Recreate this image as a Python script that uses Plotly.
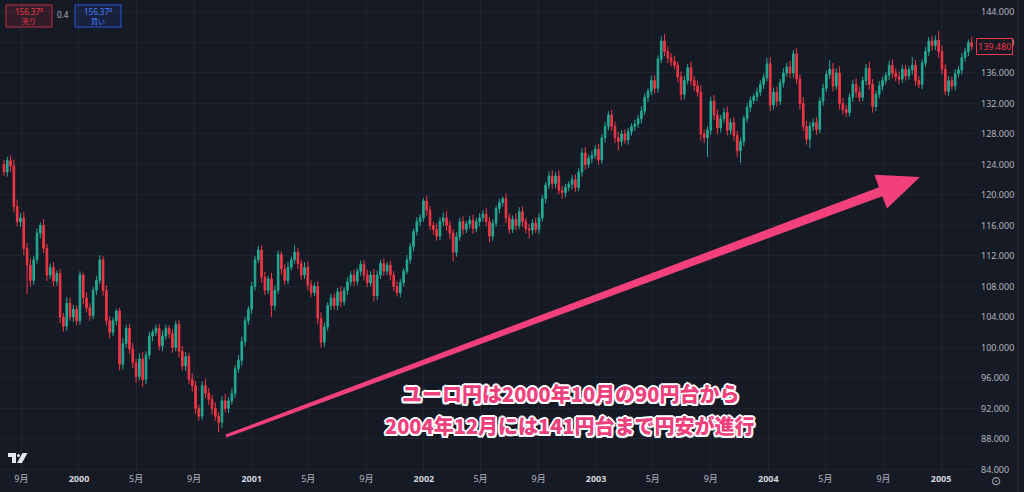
import plotly.graph_objects as go
import pandas as pd

# ---------------- data (weekly EUR/JPY candles) ----------------
START_WEEK = "1999-07-26"
FIRST_OPEN = 124.0
CLOSE = [
    123.0, 124.5, 123.8, 118.5, 116.5, 117.0, 113.0, 110.8, 108.8, 111.5,
    115.0, 116.0, 113.0, 109.5, 110.5, 108.7, 109.7, 104.0, 102.8, 105.8,
    104.0, 105.0, 103.5, 109.5, 106.5, 105.2, 104.2, 107.5, 108.8, 111.5,
    107.5, 103.5, 102.0, 103.5, 104.8, 97.8, 100.5, 102.5, 99.8, 98.0,
    96.2, 98.5, 95.8, 99.0, 101.5, 102.0, 102.5, 100.2, 101.5, 102.5,
    101.8, 100.0, 103.0, 99.5, 97.6, 98.8, 95.8, 95.0, 92.0, 91.0,
    95.0, 94.0, 93.2, 92.0, 91.0, 90.2, 93.0, 92.0, 93.0, 94.0,
    97.2, 98.3, 100.8, 103.5, 105.0, 108.0, 111.5, 112.8, 109.2, 107.5,
    109.0, 105.5, 107.5, 112.2, 110.3, 108.8, 110.5, 111.5, 112.5, 111.0,
    109.5, 110.5, 108.2, 107.2, 108.0, 103.8, 100.7, 102.7, 105.5, 106.5,
    105.5, 107.3, 106.0, 107.5, 108.6, 109.5, 108.7, 110.0, 110.9, 109.5,
    108.5, 109.5, 106.8, 109.5, 111.0, 110.0, 110.8, 109.5, 108.0, 107.2,
    108.5, 110.0, 111.5, 113.2, 115.2, 116.5, 117.0, 119.2, 118.0, 116.0,
    115.5, 114.6, 116.5, 117.0, 116.0, 115.0, 112.5, 114.5, 116.5, 115.5,
    116.2, 116.7, 115.6, 116.5, 117.0, 117.5, 116.5, 114.6, 116.3, 118.2,
    119.0, 119.5, 117.0, 115.5, 116.8, 116.0, 117.8, 116.5, 115.6, 115.4,
    116.3, 115.5, 117.0, 119.5, 121.3, 122.5, 121.5, 122.5, 120.6, 120.3,
    121.0, 121.4, 122.0, 121.0, 123.0, 125.5, 124.0, 124.8, 125.2, 126.0,
    124.6, 127.5, 129.0, 130.5, 129.0, 127.5, 127.0, 128.0, 127.2, 128.3,
    129.0, 129.3, 130.0, 131.0, 132.8, 133.6, 135.0, 134.0, 137.8, 140.2,
    138.8, 138.0, 137.5, 137.0, 135.5, 133.2, 135.0, 136.7, 135.0, 134.3,
    133.5, 128.0, 127.5, 128.5, 132.3, 130.5, 128.8, 130.0, 130.8, 128.5,
    129.5, 127.8, 125.8, 127.0, 130.0, 131.5, 132.4, 132.9, 133.5, 134.5,
    135.4, 137.2, 131.8, 133.5, 132.3, 134.7, 136.0, 136.8, 136.0, 138.5,
    135.2, 132.0, 129.0, 127.3, 129.0, 129.5, 128.6, 132.3, 134.0, 135.8,
    136.5, 134.3, 136.0, 132.0, 131.2, 130.8, 132.8, 134.5, 133.5, 132.8,
    135.0, 136.6, 134.5, 131.6, 133.2, 134.3, 135.0, 135.7, 137.0, 136.0,
    135.5, 135.2, 136.5, 135.6, 136.4, 137.0, 135.0, 134.5, 137.3, 138.8,
    140.2, 139.6, 140.3, 138.8, 136.5, 133.6, 135.0, 134.3, 135.9, 136.4,
    138.0, 138.8, 140.0, 139.48,
]
UPPER_WICK = [
    0.6, 0.5, 0.7, 0.8, 0.9, 0.6, 0.8, 0.7, 0.9, 0.5,
    0.6, 0.4, 0.8, 0.6, 0.5, 0.7, 0.4, 0.6, 0.5, 0.8,
    0.7, 0.6, 0.5, 0.5, 0.3, 0.7, 0.6, 0.4, 0.6, 0.6,
    0.5, 0.7, 0.6, 0.4, 0.3, 0.4, 0.7, 0.5, 0.6, 0.8,
    0.5, 0.7, 0.9, 0.5, 0.6, 0.4, 0.5, 0.6, 0.7, 0.5,
    0.4, 0.6, 0.5, 0.6, 0.7, 0.6, 0.5, 0.8, 0.6, 0.5,
    0.6, 0.9, 0.7, 0.6, 0.8, 0.5, 0.6, 0.9, 0.5, 0.6,
    0.5, 0.7, 0.6, 0.5, 0.4, 0.6, 0.5, 0.5, 0.6, 0.7,
    0.4, 0.8, 0.6, 0.5, 0.4, 0.6, 0.7, 0.4, 0.9, 0.6,
    0.5, 0.7, 0.8, 0.6, 0.5, 0.7, 0.8, 0.6, 0.4, 0.5,
    0.6, 0.5, 0.7, 0.4, 0.6, 0.5, 0.7, 0.4, 0.5, 0.6,
    0.7, 0.5, 0.8, 0.6, 0.5, 0.7, 0.4, 0.6, 0.5, 0.7,
    0.5, 0.4, 0.6, 0.5, 0.4, 0.6, 0.5, 0.4, 0.7, 0.6,
    0.5, 0.8, 0.6, 0.7, 0.9, 0.6, 0.5, 0.6, 0.5, 0.7,
    0.4, 0.6, 0.7, 0.5, 0.6, 0.5, 0.8, 0.6, 0.5, 0.4,
    0.5, 0.3, 0.7, 0.6, 0.5, 0.8, 0.6, 0.7, 0.5, 0.6,
    0.5, 0.7, 0.6, 0.5, 0.4, 0.6, 0.8, 0.5, 0.7, 0.6,
    0.5, 0.4, 0.6, 0.7, 0.5, 0.6, 0.8, 0.5, 0.6, 0.5,
    0.7, 0.5, 0.6, 0.5, 0.7, 0.6, 0.8, 0.5, 0.6, 0.5,
    0.4, 0.6, 0.5, 0.6, 0.5, 0.4, 0.6, 0.7, 0.5, 0.6,
    0.9, 0.7, 0.6, 0.8, 0.5, 0.7, 0.6, 0.5, 0.8, 0.6,
    0.7, 0.9, 0.6, 0.5, 0.6, 0.8, 0.7, 0.5, 0.6, 0.8,
    0.5, 0.7, 0.6, 0.5, 0.4, 0.6, 0.5, 0.4, 0.6, 0.5,
    0.5, 0.8, 0.9, 0.6, 0.7, 0.5, 0.6, 0.5, 0.8, 0.5,
    0.7, 0.6, 0.8, 0.7, 0.6, 0.5, 0.7, 0.5, 0.6, 0.5,
    1.2, 0.8, 0.6, 0.9, 0.7, 0.6, 0.5, 0.6, 0.8, 0.7,
    0.5, 0.6, 0.9, 0.7, 0.5, 0.6, 0.5, 0.4, 0.6, 0.8,
    0.6, 0.7, 0.5, 0.6, 0.5, 1.1, 0.7, 0.6, 0.5, 0.6,
    0.5, 0.7, 0.6, 1.2, 0.8, 0.7, 0.6, 0.5, 0.6, 0.5,
    0.6, 0.5, 0.4, 0.7,
]
LOWER_WICK = [
    0.5, 0.6, 0.7, 0.8, 0.6, 0.7, 0.9, 3.8, 0.8, 0.6,
    0.5, 0.7, 0.6, 0.8, 0.5, 0.7, 0.6, 0.8, 0.7, 0.6,
    0.5, 0.7, 0.6, 0.5, 0.8, 0.6, 0.7, 0.5, 0.6, 0.5,
    0.7, 0.6, 0.8, 0.5, 0.6, 0.8, 0.7, 0.5, 0.6, 0.7,
    0.8, 0.5, 1.0, 0.6, 0.5, 0.7, 0.5, 0.6, 0.7, 0.5,
    0.6, 0.7, 0.5, 0.8, 0.6, 0.7, 0.6, 0.8, 0.7, 0.6,
    0.5, 0.6, 0.7, 0.8, 0.6, 1.3, 0.7, 0.5, 0.6, 0.5,
    0.6, 0.5, 0.7, 0.6, 0.5, 0.6, 0.5, 0.4, 0.7, 0.6,
    0.5, 1.5, 0.6, 0.5, 0.7, 0.6, 0.5, 0.4, 0.5, 0.7,
    0.6, 0.5, 0.7, 0.6, 0.5, 0.8, 0.7, 0.6, 0.5, 0.6,
    0.5, 0.6, 0.7, 0.5, 0.6, 0.5, 0.6, 0.5, 0.6, 0.7,
    0.6, 0.5, 0.8, 0.6, 0.5, 0.6, 0.5, 0.7, 0.6, 0.5,
    0.6, 0.5, 0.4, 0.5, 0.6, 0.5, 0.6, 0.5, 0.7, 0.6,
    0.7, 0.6, 0.5, 0.6, 0.7, 0.8, 1.2, 0.6, 0.5, 0.7,
    0.5, 0.6, 0.7, 0.5, 0.6, 0.5, 0.6, 0.8, 0.6, 0.5,
    0.6, 0.5, 0.7, 0.6, 0.5, 0.6, 0.5, 0.7, 0.6, 1.1,
    0.6, 0.5, 0.6, 0.5, 0.6, 0.5, 0.7, 0.6, 0.5, 0.8,
    0.6, 0.5, 0.7, 0.6, 0.5, 0.6, 0.7, 0.5, 0.6, 0.5,
    0.6, 0.5, 0.6, 0.5, 0.6, 0.7, 1.2, 0.6, 0.5, 0.6,
    0.5, 0.6, 0.5, 0.6, 0.5, 0.6, 0.5, 0.7, 0.6, 0.5,
    0.6, 0.7, 0.6, 0.5, 0.7, 0.8, 0.6, 0.5, 0.6, 0.7,
    0.6, 0.9, 0.7, 2.5, 0.6, 0.7, 0.8, 0.6, 0.5, 0.7,
    0.6, 0.7, 0.8, 1.6, 0.6, 0.5, 0.6, 0.5, 0.6, 0.5,
    0.6, 0.5, 0.8, 0.6, 0.7, 0.5, 0.6, 0.5, 0.7, 0.6,
    0.7, 0.8, 0.6, 0.7, 1.1, 0.6, 0.7, 0.5, 0.6, 0.5,
    0.6, 0.7, 0.5, 0.8, 0.7, 0.6, 0.5, 0.6, 0.7, 0.6,
    0.5, 0.6, 0.7, 0.8, 0.6, 0.5, 0.6, 0.5, 0.6, 0.7,
    0.6, 0.7, 0.5, 0.6, 0.5, 0.6, 0.7, 0.5, 0.6, 0.5,
    0.6, 0.7, 0.6, 0.8, 0.7, 0.5, 0.6, 0.5, 0.6, 0.5,
    0.6, 0.5, 0.6, 0.5,
]

PRICE_TICKS = [84, 88, 92, 96, 100, 104, 108, 112, 116, 120, 124, 128, 132, 136, 140, 144]
TIME_TICKS = ["1999-09-01", "2000-01-01", "2000-05-01", "2000-09-01", "2001-01-01",
              "2001-05-01", "2001-09-01", "2002-01-01", "2002-05-01", "2002-09-01",
              "2003-01-01", "2003-05-01", "2003-09-01", "2004-01-01", "2004-05-01",
              "2004-09-01", "2005-01-01"]
TIME_LABELS = ["9月", "2000", "5月", "9月", "2001", "5月", "9月", "2002", "5月", "9月",
               "2003", "5月", "9月", "2004", "5月", "9月", "2005"]
LAST_PRICE = 139.48
ANNOT_LINE1 = "ユーロ円は2000年10月の90円台から"
ANNOT_LINE2 = "2004年12月には141円台まで円安が進行"

# ---------------- styles ----------------
BG = "#161a25"
GRID = "#1f2431"
UP = "#22ab94"
DOWN = "#f23645"
PINK = "#f2407c"
AXIS_TXT = "#b2b5be"
FONT = "Noto Sans, Noto Sans CJK JP, sans-serif"

W, H = 1024, 492
PLOT_W, PLOT_H = 975, 472


def px(x):
    return x / PLOT_W


def py(y):
    return 1 - y / PLOT_H


dates = pd.date_range(START_WEEK, periods=len(CLOSE), freq="7D")
opens = [FIRST_OPEN] + CLOSE[:-1]
highs = [max(o, c) + u for o, c, u in zip(opens, CLOSE, UPPER_WICK)]
lows = [min(o, c) - d for o, c, d in zip(opens, CLOSE, LOWER_WICK)]

fig = go.Figure(go.Candlestick(
    x=dates, open=opens, high=highs, low=lows, close=CLOSE,
    increasing=dict(line=dict(color=UP, width=1), fillcolor=UP),
    decreasing=dict(line=dict(color=DOWN, width=1), fillcolor=DOWN),
    whiskerwidth=0, hoverinfo="skip",
))

ticktext = []
for lab in TIME_LABELS:
    if lab.isdigit():
        ticktext.append(f"<b><span style='color:#d1d4dc'>{lab}</span></b>")
    else:
        ticktext.append(lab)

fig.update_layout(
    width=W, height=H,
    margin=dict(l=0, r=W - PLOT_W, t=0, b=H - PLOT_H),
    paper_bgcolor=BG, plot_bgcolor=BG,
    showlegend=False, hovermode=False,
    font=dict(family=FONT, color=AXIS_TXT, size=9),
    xaxis=dict(
        type="date", range=["1999-07-17 14:00", "2005-03-14"],
        rangeslider=dict(visible=False),
        tickvals=TIME_TICKS, ticktext=ticktext,
        showgrid=True, gridcolor=GRID, gridwidth=1,
        zeroline=False, showline=False, ticks="",
        tickfont=dict(size=9, color=AXIS_TXT, family=FONT),
        fixedrange=True,
    ),
    yaxis=dict(
        side="right", range=[83.67, 145.57],
        tickvals=PRICE_TICKS, ticktext=[f"{v:.3f}" for v in PRICE_TICKS],
        showgrid=True, gridcolor=GRID, gridwidth=1,
        zeroline=False, showline=False, ticks="",
        tickfont=dict(size=9, color=AXIS_TXT, family=FONT),
        ticklabelstandoff=5,
        fixedrange=True,
    ),
)

shapes = []
annotations = []

# ---- big pink arrow (tapered shaft + triangular head) ----
tail = (226.0, 436.0)
tip = (920.0, 177.0)
dx, dy = tip[0] - tail[0], tip[1] - tail[1]
L = (dx * dx + dy * dy) ** 0.5
ux, uy = dx / L, dy / L
nx, ny = -uy, ux
head_len, head_half = 42.0, 18.0
base = (tip[0] - head_len * ux, tip[1] - head_len * uy)
w_tail, w_base = 1.6, 4.8
pts = [
    (tail[0] + w_tail * nx, tail[1] + w_tail * ny),
    (base[0] + w_base * nx, base[1] + w_base * ny),
    (base[0] + head_half * nx, base[1] + head_half * ny),
    tip,
    (base[0] - head_half * nx, base[1] - head_half * ny),
    (base[0] - w_base * nx, base[1] - w_base * ny),
    (tail[0] - w_tail * nx, tail[1] - w_tail * ny),
]
path = "M " + " L ".join(f"{px(x):.5f},{py(y):.5f}" for x, y in pts) + " Z"
shapes.append(dict(type="path", path=path, xref="paper", yref="paper",
                   fillcolor=PINK, line=dict(width=0), layer="above"))

# ---- annotation text: pink fill with white outline ----
outline = ", ".join(f"{a}px {b}px 0 #ffffff" for a, b in
                    [(-2, 0), (2, 0), (0, -2), (0, 2),
                     (-1.5, -1.5), (1.5, -1.5), (-1.5, 1.5), (1.5, 1.5),
                     (-1, 0), (1, 0), (0, -1), (0, 1)])
txt_font = dict(family="Noto Sans CJK JP", size=20, color=PINK, weight=900, shadow=outline)
annotations.append(dict(x=px(570), y=py(393), xref="paper", yref="paper", text=ANNOT_LINE1,
                        showarrow=False, font=txt_font, xanchor="center", yanchor="middle"))
annotations.append(dict(x=px(570), y=py(425), xref="paper", yref="paper", text=ANNOT_LINE2,
                        showarrow=False, font=txt_font, xanchor="center", yanchor="middle"))

# ---- last price label ----
annotations.append(dict(x=px(976), y=LAST_PRICE, xref="paper", yref="y",
                        text=f"{LAST_PRICE:.3f}", showarrow=False, xanchor="left", yanchor="middle",
                        font=dict(size=9, color=DOWN, family=FONT),
                        bgcolor=BG, bordercolor=DOWN, borderwidth=1, borderpad=1))

# ---- top-left trade buttons ----
shapes.append(dict(type="rect", xref="paper", yref="paper", x0=px(6), x1=px(52), y0=py(27), y1=py(5),
                   fillcolor="rgba(242,54,69,0.12)", line=dict(color="rgba(242,54,69,0.75)", width=1),
                   layer="above"))
shapes.append(dict(type="rect", xref="paper", yref="paper", x0=px(75), x1=px(121), y0=py(27), y1=py(5),
                   fillcolor="rgba(41,98,255,0.12)", line=dict(color="rgba(41,98,255,0.85)", width=1),
                   layer="above"))
for cx, col, word in [(29, "#f23645", "売り"), (98, "#4a7dff", "買い")]:
    annotations.append(dict(x=px(cx), y=py(11.5), xref="paper", yref="paper",
                            text="156.37<sup>8</sup>", showarrow=False,
                            font=dict(size=8, color=col, family=FONT), xanchor="center", yanchor="middle"))
    annotations.append(dict(x=px(cx), y=py(21), xref="paper", yref="paper",
                            text=word, showarrow=False,
                            font=dict(size=7, color=col, family="Noto Sans CJK JP"),
                            xanchor="center", yanchor="middle"))
annotations.append(dict(x=px(63.5), y=py(14), xref="paper", yref="paper", text="0.4",
                        showarrow=False, font=dict(size=8, color=AXIS_TXT, family=FONT),
                        xanchor="center", yanchor="middle"))

# ---- TradingView logo ----
logo_col = "#e6e8ee"
shapes.append(dict(type="rect", xref="paper", yref="paper", x0=px(8), x1=px(16), y0=py(457), y1=py(453),
                   fillcolor=logo_col, line=dict(width=0), layer="above"))
shapes.append(dict(type="rect", xref="paper", yref="paper", x0=px(12), x1=px(16), y0=py(463), y1=py(453),
                   fillcolor=logo_col, line=dict(width=0), layer="above"))
shapes.append(dict(type="circle", xref="paper", yref="paper", x0=px(17), x1=px(20), y0=py(457), y1=py(454),
                   fillcolor=logo_col, line=dict(width=0), layer="above"))
logo_pts = [(22.5, 453), (27.5, 453), (22, 463), (17, 463)]
shapes.append(dict(type="path", xref="paper", yref="paper",
                   path="M " + " L ".join(f"{px(x):.5f},{py(y):.5f}" for x, y in logo_pts) + " Z",
                   fillcolor=logo_col, line=dict(width=0), layer="above"))

# ---- right border & settings icon ----
shapes.append(dict(type="line", xref="paper", yref="paper", x0=px(1018), x1=px(1018), y0=py(0), y1=py(H),
                   line=dict(color="#2a2e39", width=1), layer="above"))
annotations.append(dict(x=px(996), y=py(481), xref="paper", yref="paper", text="⊙",
                        showarrow=False, font=dict(size=12, color=AXIS_TXT, family="DejaVu Sans"),
                        xanchor="center", yanchor="middle"))

fig.update_layout(shapes=shapes, annotations=annotations)

fig.write_html("out.html", config={"displayModeBar": False},
               post_script="document.body.style.margin='0';document.body.style.overflow='hidden';document.body.style.background='" + BG + "';")
